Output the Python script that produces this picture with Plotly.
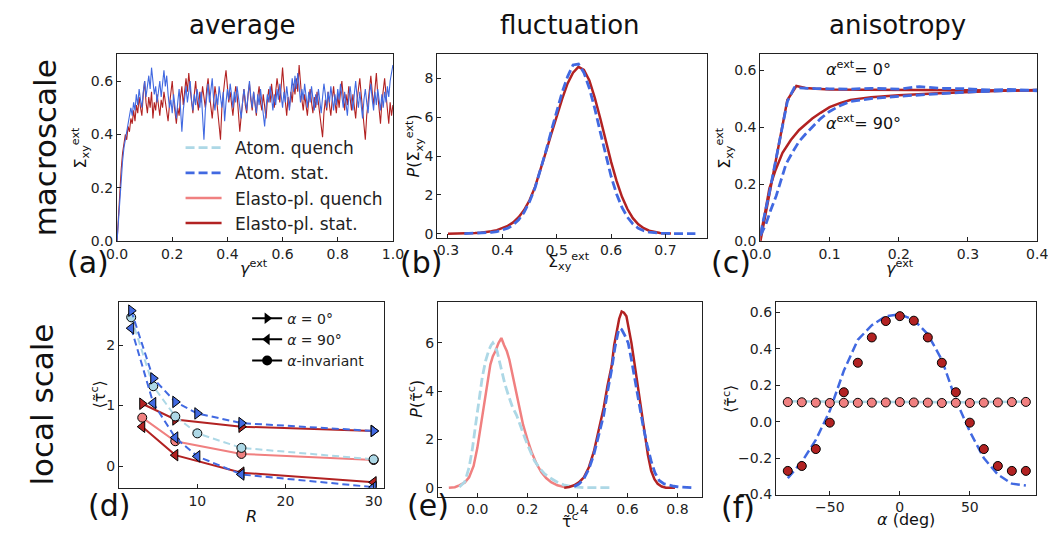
import plotly.graph_objects as go

W, H = 1056, 539
BLUE = "#4169E1"
RED = "#B22222"
LBLUE = "#ADD8E6"
LCORAL = "#F08080"
FONT = "DejaVu Sans"

# ---------------- (a) average: stress-strain time series ----------------
sigma_atom_a = [
    0.0, 0.08, 0.16, 0.24, 0.30, 0.35, 0.38, 0.42, 0.45, 0.48, 0.50,
    0.47, 0.52, 0.49, 0.55, 0.51, 0.57, 0.53, 0.50, 0.56, 0.60,
    0.54, 0.58, 0.62, 0.57, 0.65, 0.60, 0.55, 0.58, 0.52, 0.56,
    0.60, 0.54, 0.59, 0.64, 0.58, 0.62, 0.55, 0.50, 0.53, 0.48,
    0.55, 0.51, 0.46, 0.52, 0.57, 0.50, 0.41, 0.49, 0.54, 0.58,
    0.52, 0.56, 0.60, 0.53, 0.49, 0.55, 0.51, 0.57, 0.54, 0.50,
    0.56, 0.47, 0.38, 0.49, 0.55, 0.59, 0.52, 0.57, 0.61, 0.53,
    0.49, 0.55, 0.51, 0.58, 0.54, 0.50, 0.56, 0.45, 0.52, 0.57,
    0.53, 0.59, 0.55, 0.50, 0.56, 0.52, 0.58, 0.54, 0.49, 0.46,
    0.52, 0.57, 0.53, 0.49, 0.55, 0.60, 0.54, 0.50, 0.56, 0.52,
    0.48, 0.55, 0.51, 0.57, 0.53, 0.47, 0.43, 0.50, 0.55, 0.52,
    0.58, 0.54, 0.49, 0.55, 0.51, 0.57, 0.53, 0.59, 0.55, 0.50,
    0.56, 0.52, 0.58, 0.54, 0.49, 0.55, 0.61, 0.56, 0.62, 0.57,
    0.63, 0.58, 0.52, 0.57, 0.53, 0.59, 0.55, 0.50, 0.56, 0.52,
    0.58, 0.54, 0.49, 0.55, 0.51, 0.57, 0.53, 0.48, 0.54, 0.59,
    0.55, 0.50, 0.56, 0.52, 0.58, 0.53, 0.49, 0.55, 0.51, 0.57,
    0.53, 0.59, 0.54, 0.50, 0.56, 0.52, 0.47, 0.54, 0.58, 0.53,
    0.49, 0.55, 0.60, 0.54, 0.50, 0.56, 0.51, 0.46, 0.53, 0.57,
    0.52, 0.48, 0.55, 0.59, 0.53, 0.49, 0.56, 0.51, 0.57, 0.53,
    0.49, 0.55, 0.50, 0.56, 0.52, 0.58, 0.54, 0.60, 0.63, 0.66,
]
sigma_ep_a = [
    0.0, 0.10, 0.19, 0.27, 0.33, 0.37, 0.40, 0.38, 0.43, 0.41, 0.46,
    0.44, 0.49, 0.45, 0.51, 0.48, 0.54, 0.50, 0.47, 0.55, 0.60,
    0.52, 0.48, 0.54, 0.50, 0.56, 0.46, 0.52, 0.49, 0.55, 0.51,
    0.47, 0.53, 0.50, 0.56, 0.52, 0.48, 0.45, 0.51, 0.56, 0.60,
    0.53, 0.49, 0.44, 0.50, 0.47, 0.54, 0.58, 0.51, 0.55, 0.61,
    0.56, 0.63, 0.57, 0.52, 0.48, 0.55, 0.60, 0.53, 0.49, 0.56,
    0.52, 0.58, 0.54, 0.50, 0.57, 0.61, 0.55, 0.51, 0.46, 0.52,
    0.58, 0.54, 0.48, 0.44, 0.38, 0.50, 0.56, 0.60, 0.64, 0.57,
    0.52, 0.56, 0.50, 0.47, 0.53, 0.58, 0.55, 0.49, 0.41, 0.47,
    0.53, 0.57, 0.51, 0.48, 0.55, 0.59, 0.53, 0.49, 0.56, 0.52,
    0.47, 0.54, 0.58, 0.52, 0.49, 0.55, 0.51, 0.46, 0.53, 0.57,
    0.52, 0.59, 0.54, 0.50, 0.56, 0.61, 0.57, 0.52, 0.58, 0.65,
    0.58, 0.52, 0.47, 0.54, 0.50, 0.56, 0.52, 0.59, 0.55, 0.61,
    0.56, 0.66, 0.59, 0.53, 0.49, 0.55, 0.51, 0.47, 0.53, 0.57,
    0.52, 0.48, 0.54, 0.50, 0.56, 0.52, 0.46, 0.42, 0.39, 0.48,
    0.53, 0.49, 0.56, 0.51, 0.47, 0.53, 0.58, 0.52, 0.48, 0.55,
    0.50, 0.56, 0.60, 0.54, 0.49, 0.55, 0.51, 0.58, 0.53, 0.49,
    0.55, 0.51, 0.46, 0.53, 0.57, 0.61, 0.55, 0.49, 0.44, 0.38,
    0.47, 0.53, 0.58, 0.62, 0.56, 0.51, 0.57, 0.63, 0.55, 0.49,
    0.44, 0.52, 0.57, 0.61, 0.55, 0.49, 0.44, 0.52, 0.47, 0.51,
]
gamma_step = 0.005
gamma_a = [round(i * gamma_step, 4) for i in range(len(sigma_atom_a))]

# ---------------- (b) fluctuation: distribution of macroscopic stress ----------------
b_ep_x = [0.30, 0.31, 0.32, 0.33, 0.34, 0.35, 0.36, 0.37, 0.38, 0.39, 0.40, 0.41, 0.42, 0.43,
          0.44, 0.45, 0.46, 0.47, 0.48, 0.49, 0.50, 0.51, 0.52, 0.53, 0.54, 0.55, 0.56, 0.57,
          0.58, 0.59, 0.60, 0.61, 0.62, 0.63, 0.64, 0.65, 0.66, 0.67, 0.68, 0.69, 0.70, 0.71]
b_ep_p = [0.0, 0.0, 0.01, 0.01, 0.02, 0.03, 0.05, 0.08, 0.12, 0.18, 0.27, 0.40, 0.58, 0.85,
          1.22, 1.72, 2.40, 3.25, 4.20, 5.15, 6.10, 6.95, 7.75, 8.30, 8.60, 8.45, 7.90, 7.00,
          5.95, 4.80, 3.70, 2.72, 1.90, 1.27, 0.80, 0.48, 0.28, 0.15, 0.08, 0.04, 0.02, 0.01]
b_atom_x = [0.33, 0.34, 0.35, 0.36, 0.37, 0.38, 0.39, 0.40, 0.41, 0.42, 0.43, 0.44, 0.45, 0.46,
            0.47, 0.48, 0.49, 0.50, 0.51, 0.52, 0.53, 0.54, 0.55, 0.56, 0.57, 0.58, 0.59, 0.60,
            0.61, 0.62, 0.63, 0.64, 0.65, 0.66, 0.67, 0.68, 0.69, 0.70, 0.71, 0.73, 0.755]
b_atom_p = [0.0, 0.01, 0.01, 0.02, 0.04, 0.07, 0.11, 0.18, 0.28, 0.45, 0.72, 1.10, 1.65, 2.35,
            3.25, 4.25, 5.30, 6.35, 7.30, 8.10, 8.70, 8.75, 8.30, 7.50, 6.45, 5.25, 4.05, 2.95,
            2.05, 1.35, 0.85, 0.50, 0.28, 0.15, 0.08, 0.04, 0.02, 0.01, 0.0, 0.0, 0.0]

# ---------------- (c) anisotropy: stress-strain for two loading angles ----------------
c_ep0_x = [0.0, 0.013, 0.026, 0.039, 0.052, 0.065, 0.08, 0.1, 0.15, 0.2, 0.25, 0.3, 0.35, 0.4]
c_ep0_y = [0.0, 0.165, 0.33, 0.495, 0.544, 0.537, 0.534, 0.532, 0.531, 0.530, 0.529, 0.529, 0.528, 0.528]
c_at0_x = [0.0, 0.013, 0.026, 0.039, 0.049, 0.06, 0.08, 0.1, 0.13, 0.16, 0.2, 0.23, 0.26, 0.3,
           0.33, 0.36, 0.4]
c_at0_y = [0.025, 0.17, 0.33, 0.49, 0.538, 0.536, 0.535, 0.534, 0.533, 0.536, 0.533, 0.542,
           0.536, 0.534, 0.530, 0.532, 0.527]
c_ep90_x = [0.0, 0.006, 0.013, 0.022, 0.032, 0.044, 0.056, 0.065, 0.075, 0.087, 0.1, 0.115,
            0.13, 0.16, 0.2, 0.25, 0.3, 0.35, 0.4]
c_ep90_y = [0.02, 0.09, 0.185, 0.25, 0.31, 0.355, 0.39, 0.41, 0.43, 0.45, 0.47, 0.484, 0.495,
            0.505, 0.512, 0.518, 0.523, 0.527, 0.53]
c_at90_x = [0.0, 0.008, 0.015, 0.023, 0.03, 0.037, 0.046, 0.056, 0.065, 0.075, 0.087, 0.1,
            0.115, 0.13, 0.16, 0.2, 0.25, 0.3, 0.35, 0.4]
c_at90_y = [0.02, 0.06, 0.11, 0.16, 0.215, 0.27, 0.31, 0.35, 0.375, 0.40, 0.43, 0.455, 0.475,
            0.49, 0.50, 0.508, 0.515, 0.523, 0.527, 0.53]

# ---------------- (d) local scale: mean threshold vs R ----------------
R_atom = [2.5, 5, 7.5, 10, 15, 30]
R_ep = [3.75, 7.5, 15, 30]
d_atom_0 = [2.57, 1.45, 1.06, 0.87, 0.71, 0.58]
d_atom_90 = [2.28, 1.04, 0.47, 0.16, -0.14, -0.35]
d_atom_inv = [2.46, 1.32, 0.82, 0.54, 0.30, 0.11]
d_ep_0 = [1.03, 0.77, 0.65, 0.58]
d_ep_90 = [0.65, 0.18, -0.11, -0.27]
d_ep_inv = [0.80, 0.41, 0.20, 0.10]

# ---------------- (e) distributions of local thresholds ----------------
e_epq_x = [-0.114, -0.09, -0.072, -0.05, -0.033, -0.015, 0.0, 0.013, 0.026, 0.04, 0.052, 0.062,
           0.072, 0.085, 0.096, 0.107, 0.118, 0.128, 0.138, 0.147, 0.157, 0.17, 0.183, 0.2,
           0.216, 0.236, 0.256, 0.275, 0.295, 0.32, 0.347]
e_epq_p = [0.0, 0.02, 0.1, 0.22, 0.43, 0.9, 1.65, 2.5, 3.4, 4.3, 5.1, 5.45, 5.65, 6.0, 6.2, 5.9,
           5.65, 5.3, 4.8, 4.3, 3.8, 3.2, 2.6, 2.0, 1.5, 1.0, 0.64, 0.4, 0.23, 0.1, 0.03]
e_atq_x = [-0.072, -0.05, -0.033, -0.02, -0.007, 0.006, 0.02, 0.033, 0.046, 0.055, 0.062, 0.07,
           0.079, 0.088, 0.098, 0.11, 0.125, 0.14, 0.157, 0.172, 0.19, 0.21, 0.229, 0.25, 0.269,
           0.295, 0.32, 0.345, 0.373, 0.4, 0.43, 0.48, 0.53]
e_atq_p = [0.03, 0.25, 0.84, 1.6, 2.6, 3.6, 4.6, 5.25, 5.7, 5.9, 6.0, 5.85, 5.65, 5.25, 4.8, 4.3,
           3.8, 3.35, 3.0, 2.55, 2.06, 1.55, 1.1, 0.8, 0.57, 0.38, 0.23, 0.12, 0.05, 0.02, 0.0,
           0.0, 0.0]
e_eps_x = [0.347, 0.367, 0.387, 0.406, 0.426, 0.446, 0.466, 0.485, 0.505, 0.52, 0.537, 0.547,
           0.557, 0.567, 0.577, 0.586, 0.596, 0.606, 0.616, 0.629, 0.642, 0.655, 0.668, 0.682,
           0.695, 0.708, 0.721, 0.737, 0.754, 0.79]
e_eps_p = [0.0, 0.03, 0.1, 0.22, 0.43, 0.85, 1.5, 2.35, 3.3, 4.2, 5.05, 5.9, 6.5, 7.0, 7.3, 7.25,
           7.1, 6.6, 6.0, 5.1, 4.2, 3.2, 2.2, 1.35, 0.7, 0.35, 0.16, 0.05, 0.0, 0.0]
e_ats_x = [0.387, 0.406, 0.426, 0.446, 0.466, 0.485, 0.505, 0.52, 0.537, 0.55, 0.564, 0.57,
           0.577, 0.59, 0.603, 0.616, 0.629, 0.645, 0.662, 0.678, 0.695, 0.71, 0.727, 0.747,
           0.767, 0.786, 0.806, 0.83, 0.858]
e_ats_p = [0.05, 0.15, 0.37, 0.78, 1.38, 2.15, 3.0, 3.95, 4.9, 5.8, 6.5, 6.6, 6.55, 6.3, 6.0, 5.3,
           4.5, 3.55, 2.6, 1.8, 1.1, 0.62, 0.3, 0.16, 0.1, 0.06, 0.03, 0.01, 0.0]

# ---------------- (f) mean threshold vs angle ----------------
alpha_f = [-80, -70, -60, -50, -40, -30, -20, -10, 0, 10, 20, 30, 40, 50, 60, 70, 80, 90]
f_ep_stat = [-0.27, -0.243, -0.15, -0.005, 0.162, 0.324, 0.463, 0.553, 0.58, 0.555, 0.463,
             0.324, 0.162, -0.005, -0.15, -0.243, -0.27, -0.27]
f_ep_quench = [0.108, 0.107, 0.105, 0.103, 0.104, 0.104, 0.105, 0.106, 0.108, 0.106, 0.105,
               0.103, 0.104, 0.103, 0.105, 0.106, 0.108, 0.109]
f_atom_stat = [-0.31, -0.22, -0.10, 0.06, 0.28, 0.45, 0.53, 0.58, 0.59, 0.56, 0.48, 0.34, 0.12,
               -0.054, -0.2, -0.29, -0.34, -0.35]
f_atom_quench = [0.112, 0.111, 0.11, 0.109, 0.109, 0.108, 0.108, 0.108, 0.109, 0.108, 0.108,
                 0.107, 0.107, 0.107, 0.108, 0.109, 0.11, 0.111]

fig = go.Figure()

def line(x, y, ax, color, width, dash="solid", name=None, legend=False, rank=None, mode="lines", marker=None, legendref="legend"):
    kw = dict(x=x, y=y, mode=mode, xaxis="x" + ax, yaxis="y" + ax,
              line=dict(color=color, width=width, dash=dash), showlegend=legend, name=name or "",
              hoverinfo="skip")
    if marker:
        kw["marker"] = marker
    if legend:
        kw["legend"] = legendref
        if rank is not None:
            kw["legendrank"] = rank
    fig.add_trace(go.Scatter(**kw))

DASH = "9px,4px"
DASH_D = "7px,4px"

# (a)
line(gamma_a, sigma_ep_a, "1", RED, 1.1)
line(gamma_a, sigma_atom_a, "1", BLUE, 1.1)
# (b)
line(b_ep_x, b_ep_p, "2", RED, 2.5)
line(b_atom_x, b_atom_p, "2", BLUE, 2.8, DASH)
# (c)
line(c_ep0_x, c_ep0_y, "3", RED, 2.5)
line(c_ep90_x, c_ep90_y, "3", RED, 2.5)
line(c_at0_x, c_at0_y, "3", BLUE, 2.8, DASH)
line(c_at90_x, c_at90_y, "3", BLUE, 2.8, DASH)

# (d)
def mk(sym, fill, size=10):
    return dict(symbol=sym, color=fill, size=size, line=dict(color="black", width=1))

line(R_ep, d_ep_0, "4", RED, 2, mode="lines+markers", marker=mk("triangle-right", RED))
line(R_ep, d_ep_90, "4", RED, 2, mode="lines+markers", marker=mk("triangle-left", RED))
line(R_ep, d_ep_inv, "4", LCORAL, 2, mode="lines+markers", marker=mk("circle", LCORAL, 9))
line(R_atom, d_atom_inv, "4", LBLUE, 2, DASH_D, mode="lines+markers", marker=mk("circle", LBLUE, 9))
line(R_atom, d_atom_0, "4", BLUE, 2, DASH_D, mode="lines+markers", marker=mk("triangle-right", BLUE))
line(R_atom, d_atom_90, "4", BLUE, 2, DASH_D, mode="lines+markers", marker=mk("triangle-left", BLUE))
# legend of (d)
for nm, sym, rk in [("<i>α</i> = 0°", "triangle-right", 1), ("<i>α</i> = 90°", "triangle-left", 2),
                    ("<i>α</i>-invariant", "circle", 3)]:
    line([None], [None], "4", "black", 2, mode="lines+markers",
         marker=dict(symbol=sym, color="black", size=10), name=nm, legend=True, rank=rk,
         legendref="legend2")

# (e) -- these also supply the legend shown in (a)
SP = "\u2002"
line(e_epq_x, e_epq_p, "5", LCORAL, 2.5, name=SP + "Elasto-pl. quench", legend=True, rank=3)
line(e_atq_x, e_atq_p, "5", LBLUE, 2.8, DASH, name=SP + "Atom. quench", legend=True, rank=1)
line(e_eps_x, e_eps_p, "5", RED, 2.5, name=SP + "Elasto-pl. stat.", legend=True, rank=4)
line(e_ats_x, e_ats_p, "5", BLUE, 2.8, DASH, name=SP + "Atom. stat.", legend=True, rank=2)

# (f)
line(alpha_f, f_atom_stat, "6", BLUE, 2.5, DASH)
line(alpha_f, f_atom_quench, "6", LBLUE, 2.5)
line(alpha_f, f_ep_quench, "6", LCORAL, 1, mode="markers", marker=mk("circle", LCORAL, 9))
line(alpha_f, f_ep_stat, "6", RED, 1, mode="markers", marker=mk("circle", RED, 9))

def px_x(p):
    return p / W

def px_y(p):
    return 1 - p / H

AX = dict(showline=True, linecolor="#222", linewidth=1, mirror=True, ticks="inside", ticklen=4,
          tickwidth=1, tickcolor="#222", showgrid=False, zeroline=False,
          tickfont=dict(family=FONT, size=14, color="#222"))

def ax(domain, rng, tickvals, fmt, anchor):
    d = dict(AX)
    d.update(domain=domain, range=rng, tickvals=tickvals, anchor=anchor)
    if fmt:
        d["tickformat"] = fmt
    return d

SIG = "Σ<sub>xy</sub><sup>ext</sup>"
TAU = "τ̃<sup>c</sup>"

dom = {
    "1": ([px_x(100), px_x(382)], [px_y(237), px_y(47)]),
    "2": ([px_x(427), px_x(703)], [px_y(233), px_y(47)]),
    "3": ([px_x(757), px_x(1040)], [px_y(237), px_y(47)]),
    "4": ([px_x(102), px_x(373)], [px_y(487), px_y(298)]),
    "5": ([px_x(428), px_x(698)], [px_y(496), px_y(298)]),
    "6": ([px_x(773), px_x(1039)], [px_y(494), px_y(298)]),
}

layout = dict(
    width=W, height=H, margin=dict(l=0, r=0, t=0, b=0),
    paper_bgcolor="white", plot_bgcolor="white",
    font=dict(family=FONT, color="#111"),
)
layout["xaxis"] = ax(dom["1"][0], [-0.0005, 1.0005], [0, 0.2, 0.4, 0.6, 0.8, 1.0], ".1f", "y")
layout["yaxis"] = ax(dom["1"][1], [-0.0005, 0.7], [0, 0.2, 0.4, 0.6], ".1f", "x")
layout["xaxis2"] = ax(dom["2"][0], [0.28, 0.777], [0.3, 0.4, 0.5, 0.6, 0.7], ".1f", "y2")
layout["yaxis2"] = ax(dom["2"][1], [-0.2, 9.25], [0, 2, 4, 6, 8], None, "x2")
layout["xaxis3"] = ax(dom["3"][0], [-0.0002, 0.4002], [0, 0.1, 0.2, 0.3, 0.4], ".1f", "y3")
layout["yaxis3"] = ax(dom["3"][1], [-0.0005, 0.655], [0, 0.2, 0.4, 0.6], ".1f", "x3")
layout["xaxis4"] = ax(dom["4"][0], [1.1, 31.2], [10, 20, 30], None, "y4")
layout["yaxis4"] = ax(dom["4"][1], [-0.36, 2.72], [0, 1, 2], None, "x4")
layout["xaxis5"] = ax(dom["5"][0], [-0.157, 0.90], [0, 0.2, 0.4, 0.6, 0.8], ".1f", "y5")
layout["yaxis5"] = ax(dom["5"][1], [-0.37, 7.71], [0, 2, 4, 6], None, "x5")
layout["xaxis6"] = ax(dom["6"][0], [-88.5, 97.5], [-50, 0, 50], None, "y6")
layout["yaxis6"] = ax(dom["6"][1], [-0.4005, 0.66], [-0.4, -0.2, 0, 0.2, 0.4, 0.6], ".1f", "x6")

layout["legend"] = dict(x=px_x(165), y=px_y(124), xanchor="left", yanchor="top",
                        bgcolor="rgba(0,0,0,0)", font=dict(family=FONT, size=17, color="#222"),
                        traceorder="normal", itemwidth=36)
layout["legend2"] = dict(x=px_x(233), y=px_y(299), xanchor="left", yanchor="top",
                         bgcolor="rgba(0,0,0,0)", font=dict(family=FONT, size=14, color="#222"),
                         traceorder="normal", itemwidth=30)

ann = []

def note(txt, x, y, size, angle=0, color="#111"):
    ann.append(dict(text=txt, x=px_x(x), y=px_y(y), xref="paper", yref="paper", showarrow=False,
                    textangle=angle, font=dict(family=FONT, size=size, color=color),
                    xanchor="center", yanchor="middle"))

for txt, x, y in [("average", 228, 17), ("fluctuation", 563, 17), ("anisotropy", 897, 17)]:
    note(txt, x, y, 26)
for txt, x, y in [("macroscale", 26, 142), ("local scale", 24, 403)]:
    note(txt, x, y, 31, -90)
for txt, x, y in [("(a)", 70, 258), ("(b)", 411, 258), ("(c)", 727, 258),
                  ("(d)", 92, 505), ("(e)", 418, 505), ("(f)", 734, 507)]:
    note(txt, x, y, 30)

# axis titles
for txt, x, y in [(SIG, 63, 142), ("<i>P</i>(" + SIG + ")", 404, 140), (SIG, 721, 142),
                  ("⟨" + TAU + "⟩", 81, 392), ("<i>P</i>(" + TAU + ")", 405, 397),
                  ("⟨" + TAU + "⟩", 726, 397)]:
    note(txt, x, y, 16, -90)
for txt, x, y in [("<i>γ</i><sup>ext</sup>", 240, 263), (SIG, 562, 257),
                  ("<i>γ</i><sup>ext</sup>", 900, 263), ("<i>R</i>", 237, 516),
                  (TAU, 563, 520), ("<i>α</i> (deg)", 906, 519)]:
    note(txt, x, y, 16)

# curve labels in (c)
ann.append(dict(text="<i>α</i><sup>ext</sup>= 0°", x=0.142, y=0.607, xref="x3", yref="y3",
                showarrow=False, font=dict(family=FONT, size=16, color="#111")))
ann.append(dict(text="<i>α</i><sup>ext</sup>= 90°", x=0.149, y=0.416, xref="x3", yref="y3",
                showarrow=False, font=dict(family=FONT, size=16, color="#111")))
layout["annotations"] = ann

fig.update_layout(**layout)
fig.write_html("out.html")
